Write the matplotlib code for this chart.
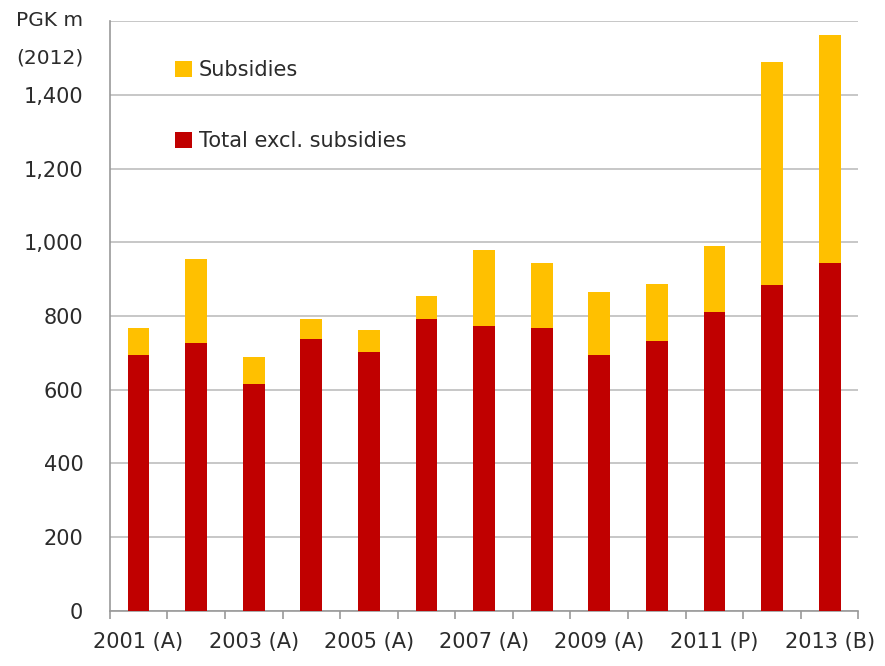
import matplotlib.pyplot as plt
import numpy as np

years = ["2001 (A)", "2002 (A)", "2003 (A)", "2004 (A)", "2005 (A)", "2006 (A)", "2007 (A)",
         "2008 (A)", "2009 (A)", "2010 (A)", "2011 (P)", "2012 (P)", "2013 (B)"]
total_excl = [695, 727, 616, 738, 701, 792, 774, 768, 695, 731, 811, 883, 944]
subsidies = [72, 228, 73, 54, 60, 61, 206, 176, 170, 157, 180, 607, 619]

red = "#C00000"
gold = "#FFC000"
grid_col = "#BDBDBD"
txt = "#2b2b2b"

plt.rcParams['font.family'] = ['DejaVu Sans']

fig = plt.figure(figsize=(8.85, 6.66), dpi=100)
ax = fig.add_axes([0.124, 0.083, 0.846, 0.885])

x = np.arange(len(years))
w = 0.38
ax.bar(x, total_excl, w, color=red, label="Total excl. subsidies", zorder=3)
ax.bar(x, subsidies, w, bottom=total_excl, color=gold, label="Subsidies", zorder=3)

ax.set_xlim(-0.5, len(years) - 0.5)
ax.set_ylim(0, 1600)
ax.set_yticks(range(0, 1601, 200))
ax.set_yticklabels([f"{v:,}" if v < 1600 else "" for v in range(0, 1601, 200)])
ax.yaxis.grid(True, color=grid_col, lw=1.2, zorder=0)
ax.tick_params(axis='y', length=0, pad=19, labelsize=15, labelcolor=txt)

# labels on every other year, tick marks between categories
ax.set_xticks(x[::2])
ax.set_xticklabels(years[::2])
ax.set_xticks(np.arange(-0.5, len(years), 1), minor=True)
ax.tick_params(axis='x', which='major', length=0, pad=15, labelsize=15, labelcolor=txt)
ax.tick_params(axis='x', which='minor', length=6, width=1.2, color="#999999")

for s in ["top", "right"]:
    ax.spines[s].set_visible(False)
ax.spines["left"].set_color("#999999")
ax.spines["bottom"].set_color("#999999")
ax.spines["left"].set_linewidth(1.2)
ax.spines["bottom"].set_linewidth(1.2)

fig.text(0.018, 1 - 21 / 666, "PGK m", fontsize=14.5, color=txt, va='center', ha='left')
fig.text(0.018, 1 - 58 / 666, "(2012)", fontsize=14.5, color=txt, va='center', ha='left')

h, l = ax.get_legend_handles_labels()
ax.legend(h[::-1], l[::-1], loc='upper left', bbox_to_anchor=(0.062, 0.966), frameon=False,
          fontsize=15, labelspacing=2.45, handlelength=0.8, handleheight=0.8,
          handletextpad=0.35, labelcolor=txt)

fig.savefig("out.png", dpi=100)
